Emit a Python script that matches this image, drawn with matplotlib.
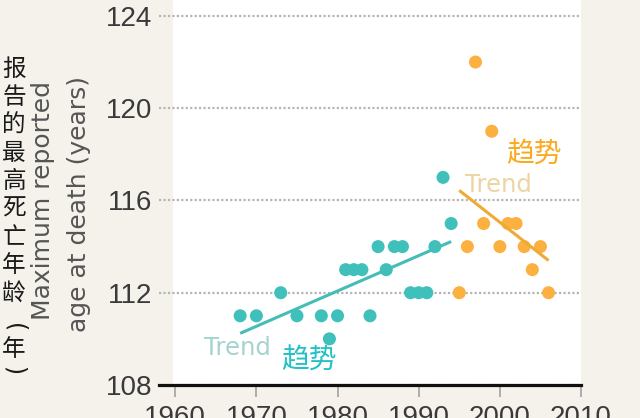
import numpy as np
import matplotlib
matplotlib.use('Agg')
import matplotlib.pyplot as plt

# data
teal_years = [1968, 1970, 1973, 1975, 1978, 1979, 1980, 1981, 1982, 1983, 1984,
              1985, 1986, 1987, 1988, 1989, 1990, 1991, 1992, 1993, 1994]
teal_ages = [111, 111, 112, 111, 111, 110, 111, 113, 113, 113, 111,
             114, 113, 114, 114, 112, 112, 112, 114, 117, 115]
orange_years = [1995, 1996, 1997, 1998, 1999, 2000, 2001, 2002, 2003, 2004, 2005, 2006]
orange_ages = [112, 114, 122, 115, 119, 114, 115, 115, 114, 113, 114, 112]

xticks = [1960, 1970, 1980, 1990, 2000, 2010]
yticks = [108, 112, 116, 120, 124]

ylabel_cn = '报告的最高死亡年龄(年)'
ylabel_en = ['Maximum reported', 'age at death (years)']

teal = '#3fc0ba'
orange = '#fbb03f'
bg = '#f5f2ec'

W, H = 640, 418
fig = plt.figure(figsize=(W/100, H/100), dpi=100, facecolor=bg)
ax = fig.add_axes([159/W, 1-385/H, 422/W, 385/H])
ax.set_facecolor(bg)
ax.set_xlim(1958, 2010)
ax.set_ylim(108, 124.69)
ax.axvspan(1959.7, 2010, color='white', zorder=0, lw=0)

for s in ['top', 'right', 'left']:
    ax.spines[s].set_visible(False)
ax.spines['bottom'].set_linewidth(2.3)
ax.spines['bottom'].set_color('#111111')
ax.spines['bottom'].set_zorder(5)

ax.set_yticks(yticks)
ax.set_xticks(xticks)
ax.yaxis.grid(True, linestyle=(0, (1, 1)), linewidth=1.6, color='#b5b5b5', zorder=1)
ax.tick_params(axis='y', length=0, pad=4.5, labelsize=20, labelcolor='#3a3a3a')
ax.tick_params(axis='x', direction='out', length=8.5, width=1.1, color='#9a9a9a',
               pad=6, labelsize=20, labelcolor='#3a3a3a')
for lab in ax.get_xticklabels() + ax.get_yticklabels():
    lab.set_fontfamily(['Liberation Sans Narrow', 'Liberation Sans', 'DejaVu Sans'])

# points
ax.scatter(teal_years, teal_ages, s=88, color=teal, edgecolors='none', zorder=3)
ax.scatter(orange_years, orange_ages, s=88, color=orange, edgecolors='none', zorder=3)

# trend lines (least squares)
for yrs, ages, c in [(teal_years, teal_ages, '#45bdb7'), (orange_years, orange_ages, '#eeaa35')]:
    k, b = np.polyfit(yrs, ages, 1)
    xx = np.array([min(yrs), max(yrs)])
    ax.plot(xx, k*xx + b, color=c, lw=2.2, zorder=4, solid_capstyle='butt')

# labels in the plot
ax.text(1963.5, 109.3, 'Trend', color='#a5d3cf', fontsize=17.5, family='DejaVu Sans',
        ha='left', va='baseline', zorder=6)
ax.text(1973.1, 109.04, '趋势', color='#22c1c5', fontsize=20, family='Noto Sans CJK SC',
        ha='left', va='center', zorder=6)
ax.text(1995.7, 116.36, 'Trend', color='#ecd5a2', fontsize=17.5, family='DejaVu Sans',
        ha='left', va='baseline', zorder=6)
ax.text(2000.8, 117.97, '趋势', color='#f9aa20', fontsize=20, family='Noto Sans CJK SC',
        ha='left', va='center', zorder=6)

# y axis titles
fig.text(43/W, 1-200/H, ylabel_en[0], rotation=90, ha='center', va='center',
         fontsize=18, color='#555555', family='DejaVu Sans')
fig.text(79/W, 1-204/H, ylabel_en[1], rotation=90, ha='center', va='center',
         fontsize=18, color='#555555', family='DejaVu Sans')
# chinese title written top to bottom, brackets turned for vertical writing
cn_y = [69 + 28.1*i for i in range(9)] + [328, 350, 371]
for ch, yy in zip(ylabel_cn, cn_y):
    if ch in '()':
        fig.text(14/W, 1-yy/H, ch, ha='center', va='center', fontsize=17, rotation=-90,
                 color='#1a1a1a', family='DejaVu Sans')
    else:
        fig.text(14/W, 1-yy/H, ch, ha='center', va='center', fontsize=17,
                 color='#1a1a1a', family='Noto Sans CJK SC')

plt.savefig('out.png', dpi=100, facecolor=bg)
